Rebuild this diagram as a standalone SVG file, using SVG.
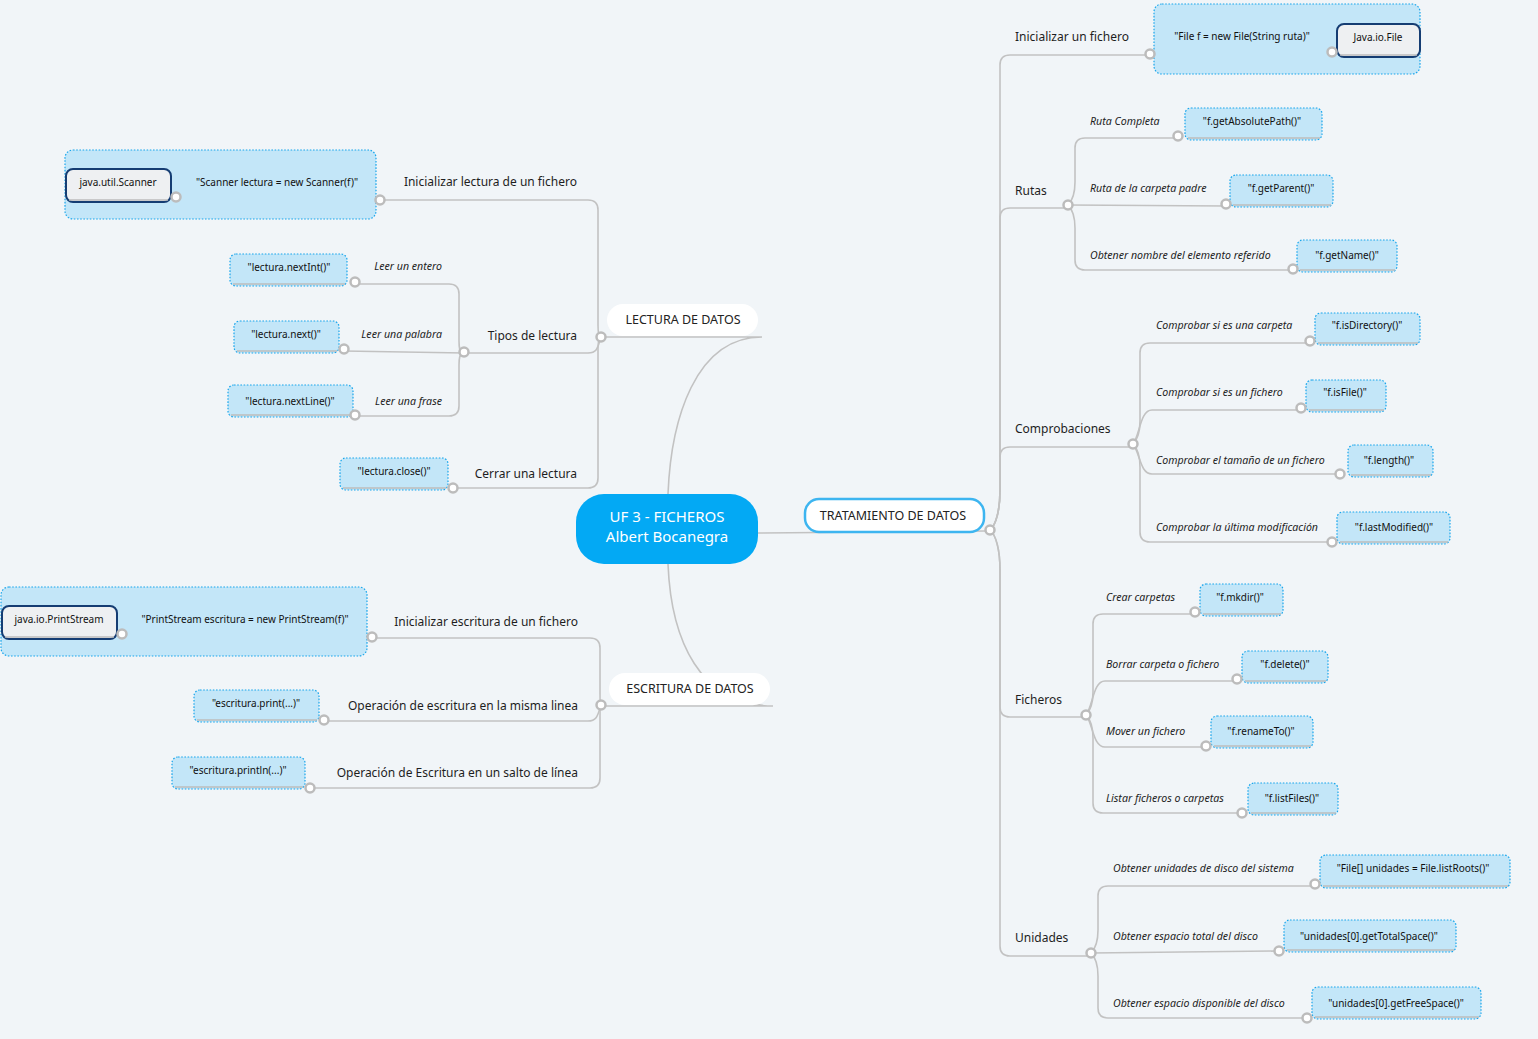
<svg xmlns="http://www.w3.org/2000/svg" width="1538" height="1039" viewBox="0 0 1538 1039">
<style>
.c{fill:none;stroke:#c2c2c2;stroke-width:1.6}
.dot{fill:#fff;stroke:#bcbcbc;stroke-width:2.5}
.box{fill:#c3e6f8;stroke:#19a6ec;stroke-width:1.2;stroke-dasharray:1.6 1.6}
.cont{fill:#c3e6f8;stroke:#19a6ec;stroke-width:1.2;stroke-dasharray:1.6 1.6}
.cls{fill:#eef0f2;stroke:#153d73;stroke-width:2}
.bl{stroke:#bdbdbd;stroke-width:1.6}
.t{font-family:"Noto Sans","Liberation Sans",sans-serif;fill:#1e1e1e}
.lab{font-size:12px}
.it{font-size:10.6px;font-style:italic}
.code{font-size:10px;text-anchor:middle;fill:#111}
.pill{font-size:12.5px;text-anchor:middle;fill:#222}
.e{text-anchor:end}
</style>
<rect width="1538" height="1039" fill="#f1f5f8"/>

<g id="connectors">
<path class="c" d="M758,533 L986,531"/>
<path class="c" d="M668,494 C671,420 695,337 762,337 L605,337"/>
<path class="c" d="M668,564 C671,640 700,706 773,706 L605,706"/>
<path class="c" d="M601,337 C598,337 598,330 598,325 L598,210 Q598,200 588,200 L384,200"/>
<path class="c" d="M601,337 C598,346 598,353 588,353 L468,353"/>
<path class="c" d="M601,337 C598,337 598,344 598,349 L598,478 Q598,488 588,488 L457,488"/>
<path class="c" d="M380,199 L176,197"/>
<path class="c" d="M464,353 C459,353 459,346 459,341 L459,294 Q459,284 449,284 L355,284"/>
<path class="c" d="M464,353 L344,351"/>
<path class="c" d="M464,353 C459,353 459,360 459,365 L459,406 Q459,416 449,416 L355,416"/>
<path class="c" d="M601,705 C600,705 600,698 600,693 L600,648 Q600,638 590,638 L376,638"/>
<path class="c" d="M601,705 C598,713 598,721 588,721 L328,721"/>
<path class="c" d="M601,705 C600,705 600,712 600,717 L600,778 Q600,788 590,788 L314,788"/>
<path class="c" d="M372,637 L122,634"/>
<path class="c" d="M990,530 C996,525 1000,510 1000,490 L1000,65 Q1000,55 1010,55 L1146,55"/>
<path class="c" d="M990,530 C996,525 1000,510 1000,490 L1000,218 Q1000,208 1010,208 L1064,208"/>
<path class="c" d="M990,530 C996,525 1000,510 1000,490 L1000,457 Q1000,447 1010,447 L1129,447"/>
<path class="c" d="M990,530 C996,535 1000,550 1000,570 L1000,707 Q1000,717 1010,717 L1082,717"/>
<path class="c" d="M990,530 C996,535 1000,550 1000,570 L1000,946 Q1000,956 1010,956 L1087,956"/>
<path class="c" d="M1150,54 L1332,52"/>
<path class="c" d="M1068,205 C1073,200 1075,192 1075,182 L1075,148 Q1075,138 1085,138 L1178,138"/>
<path class="c" d="M1068,205 L1226,206"/>
<path class="c" d="M1068,205 C1073,210 1075,218 1075,228 L1075,260 Q1075,270 1085,270 L1293,270"/>
<path class="c" d="M1133,444 C1138,439 1140,431 1140,421 L1140,353 Q1140,343 1150,343 L1310,343"/>
<path class="c" d="M1133,444 C1140,435 1140,410 1152,410 L1301,410"/>
<path class="c" d="M1133,444 C1140,453 1140,474 1152,474 L1340,474"/>
<path class="c" d="M1133,444 C1138,449 1140,457 1140,467 L1140,532 Q1140,542 1150,542 L1332,542"/>
<path class="c" d="M1086,715 C1091,710 1093,702 1093,692 L1093,624 Q1093,614 1103,614 L1195,614"/>
<path class="c" d="M1086,715 C1093,706 1093,681 1105,681 L1237,681"/>
<path class="c" d="M1086,715 C1093,724 1093,747 1105,747 L1206,747"/>
<path class="c" d="M1086,715 C1091,720 1093,728 1093,738 L1093,803 Q1093,813 1103,813 L1242,813"/>
<path class="c" d="M1091,953 C1096,948 1098,940 1098,930 L1098,896 Q1098,886 1108,886 L1315,886"/>
<path class="c" d="M1091,953 L1279,951"/>
<path class="c" d="M1091,953 C1096,958 1098,966 1098,976 L1098,1008 Q1098,1018 1108,1018 L1307,1018"/>
</g>

<g id="central">
<rect x="576" y="494" width="182" height="70" rx="28" fill="#03a9f4"/>
<text class="t" x="667" y="522" font-size="15" text-anchor="middle" style="fill:#fff">UF 3 - FICHEROS</text>
<text class="t" x="667" y="542" font-size="15" text-anchor="middle" style="fill:#fff">Albert Bocanegra</text>
</g>

<g id="lectura">
<rect x="607" y="304" width="151" height="32" rx="16" fill="#fff"/>
<text class="t pill" x="683" y="324">LECTURA DE DATOS</text>
</g>
<g id="escritura">
<rect x="609" y="673" width="161" height="32" rx="16" fill="#fff"/>
<text class="t pill" x="690" y="693">ESCRITURA DE DATOS</text>
</g>
<g id="tratamiento">
<rect x="805" y="499" width="179" height="33" rx="14" fill="#fff" stroke="#3db5f0" stroke-width="2.5"/>
<text class="t pill" x="893" y="520">TRATAMIENTO DE DATOS</text>
</g>

<g id="ini-lectura">
<rect class="cont" x="65" y="150" width="311" height="69" rx="8"/>
<text class="t lab e" x="577" y="186">Inicializar lectura de un fichero</text>
<text class="t code" x="277" y="186">"Scanner lectura = new Scanner(f)"</text>
</g>
<g id="scanner">
<rect class="cls" x="66" y="169" width="105" height="33" rx="7"/>
<line class="bl" x1="69" y1="200" x2="168" y2="200"/>
<text class="t code" x="118" y="186">java.util.Scanner</text>
</g>
<g id="tipos"><text class="t lab e" x="577" y="340">Tipos de lectura</text></g>
<g id="cerrar"><text class="t lab e" x="577" y="478">Cerrar una lectura</text></g>
<g id="nextint"><rect class="box" x="230" y="254" width="117" height="32" rx="6"/><line class="bl" x1="233" y1="284" x2="345" y2="284"/><text class="t code" x="289" y="271">"lectura.nextInt()"</text><text class="t it e" x="442" y="270">Leer un entero</text></g>
<g id="next"><rect class="box" x="234" y="321" width="105" height="32" rx="6"/><line class="bl" x1="237" y1="351" x2="337" y2="351"/><text class="t code" x="286" y="338">"lectura.next()"</text><text class="t it e" x="442" y="338">Leer una palabra</text></g>
<g id="nextline"><rect class="box" x="228" y="385" width="125" height="32" rx="6"/><line class="bl" x1="231" y1="415" x2="351" y2="415"/><text class="t code" x="290" y="405">"lectura.nextLine()"</text><text class="t it e" x="442" y="405">Leer una frase</text></g>
<g id="close"><rect class="box" x="340" y="458" width="108" height="32" rx="6"/><line class="bl" x1="343" y1="488" x2="446" y2="488"/><text class="t code" x="394" y="475">"lectura.close()"</text></g>

<g id="ini-escritura">
<rect class="cont" x="1" y="587" width="366" height="69" rx="8"/>
<text class="t lab e" x="578" y="626">Inicializar escritura de un fichero</text>
<text class="t code" x="245" y="623">"PrintStream escritura = new PrintStream(f)"</text>
</g>
<g id="printstream">
<rect class="cls" x="2" y="606" width="115" height="33" rx="7"/>
<line class="bl" x1="5" y1="637" x2="114" y2="637"/>
<text class="t code" x="59" y="623">java.io.PrintStream</text>
</g>
<g id="print"><rect class="box" x="194" y="690" width="125" height="32" rx="6"/><line class="bl" x1="197" y1="720" x2="317" y2="720"/><text class="t code" x="256" y="707">"escritura.print(...)"</text><text class="t lab e" x="578" y="710">Operación de escritura en la misma linea</text></g>
<g id="println"><rect class="box" x="172" y="757" width="133" height="32" rx="6"/><line class="bl" x1="175" y1="787" x2="303" y2="787"/><text class="t code" x="238" y="774">"escritura.println(...)"</text><text class="t lab e" x="578" y="777">Operación de Escritura en un salto de línea</text></g>

<g id="ini-fichero">
<rect class="cont" x="1154" y="4" width="266" height="70" rx="8"/>
<text class="t lab" x="1015" y="41">Inicializar un fichero</text>
<text class="t code" x="1242" y="40">"File f = new File(String ruta)"</text>
</g>
<g id="javaiofile">
<rect class="cls" x="1337" y="24" width="83" height="33" rx="7"/>
<line class="bl" x1="1340" y1="55" x2="1417" y2="55"/>
<text class="t code" x="1378" y="41">Java.io.File</text>
</g>
<g id="rutas"><text class="t lab" x="1015" y="195">Rutas</text></g>
<g id="comprobaciones"><text class="t lab" x="1015" y="433">Comprobaciones</text></g>
<g id="ficheros"><text class="t lab" x="1015" y="704">Ficheros</text></g>
<g id="unidades"><text class="t lab" x="1015" y="942">Unidades</text></g>

<g id="abspath"><text class="t it" x="1090" y="125">Ruta Completa</text><rect class="box" x="1185" y="108" width="137" height="32" rx="6"/><line class="bl" x1="1188" y1="138" x2="1320" y2="138"/><text class="t code" x="1252" y="125">"f.getAbsolutePath()"</text></g>
<g id="parent"><text class="t it" x="1090" y="192">Ruta de la carpeta padre</text><rect class="box" x="1230" y="175" width="103" height="32" rx="6"/><line class="bl" x1="1233" y1="205" x2="1331" y2="205"/><text class="t code" x="1281" y="192">"f.getParent()"</text></g>
<g id="name"><text class="t it" x="1090" y="259">Obtener nombre del elemento referido</text><rect class="box" x="1297" y="240" width="100" height="32" rx="6"/><line class="bl" x1="1300" y1="270" x2="1395" y2="270"/><text class="t code" x="1347" y="259">"f.getName()"</text></g>

<g id="isdir"><text class="t it" x="1156" y="329">Comprobar si es una carpeta</text><rect class="box" x="1315" y="313" width="105" height="32" rx="6"/><line class="bl" x1="1318" y1="343" x2="1418" y2="343"/><text class="t code" x="1367" y="329">"f.isDirectory()"</text></g>
<g id="isfile"><text class="t it" x="1156" y="396">Comprobar si es un fichero</text><rect class="box" x="1306" y="380" width="80" height="32" rx="6"/><line class="bl" x1="1309" y1="410" x2="1384" y2="410"/><text class="t code" x="1345" y="396">"f.isFile()"</text></g>
<g id="length"><text class="t it" x="1156" y="464">Comprobar el tamaño de un fichero</text><rect class="box" x="1348" y="445" width="85" height="32" rx="6"/><line class="bl" x1="1351" y1="475" x2="1431" y2="475"/><text class="t code" x="1389" y="464">"f.length()"</text></g>
<g id="lastmod"><text class="t it" x="1156" y="531">Comprobar la última modificación</text><rect class="box" x="1337" y="512" width="113" height="32" rx="6"/><line class="bl" x1="1340" y1="542" x2="1448" y2="542"/><text class="t code" x="1394" y="531">"f.lastModified()"</text></g>

<g id="mkdir"><text class="t it" x="1106" y="601">Crear carpetas</text><rect class="box" x="1200" y="584" width="83" height="32" rx="6"/><line class="bl" x1="1203" y1="614" x2="1281" y2="614"/><text class="t code" x="1240" y="601">"f.mkdir()"</text></g>
<g id="delete"><text class="t it" x="1106" y="668">Borrar carpeta o fichero</text><rect class="box" x="1242" y="651" width="86" height="32" rx="6"/><line class="bl" x1="1245" y1="681" x2="1326" y2="681"/><text class="t code" x="1285" y="668">"f.delete()"</text></g>
<g id="rename"><text class="t it" x="1106" y="735">Mover un fichero</text><rect class="box" x="1211" y="716" width="102" height="32" rx="6"/><line class="bl" x1="1214" y1="746" x2="1311" y2="746"/><text class="t code" x="1261" y="735">"f.renameTo()"</text></g>
<g id="listfiles"><text class="t it" x="1106" y="802">Listar ficheros o carpetas</text><rect class="box" x="1248" y="783" width="90" height="32" rx="6"/><line class="bl" x1="1251" y1="813" x2="1336" y2="813"/><text class="t code" x="1292" y="802">"f.listFiles()"</text></g>

<g id="listroots"><text class="t it" x="1113" y="872">Obtener unidades de disco del sistema</text><rect class="box" x="1320" y="855" width="190" height="33" rx="6"/><line class="bl" x1="1323" y1="886" x2="1508" y2="886"/><text class="t code" x="1413" y="872">"File[] unidades = File.listRoots()"</text></g>
<g id="totalspace"><text class="t it" x="1113" y="940">Obtener espacio total del disco</text><rect class="box" x="1284" y="920" width="172" height="32" rx="6"/><line class="bl" x1="1287" y1="950" x2="1454" y2="950"/><text class="t code" x="1369" y="940">"unidades[0].getTotalSpace()"</text></g>
<g id="freespace"><text class="t it" x="1113" y="1007">Obtener espacio disponible del disco</text><rect class="box" x="1312" y="987" width="169" height="32" rx="6"/><line class="bl" x1="1315" y1="1017" x2="1479" y2="1017"/><text class="t code" x="1396" y="1007">"unidades[0].getFreeSpace()"</text></g>

<g id="dots">
<circle class="dot" cx="990" cy="530" r="4.5"/>
<circle class="dot" cx="601" cy="337" r="4.5"/>
<circle class="dot" cx="601" cy="705" r="4.5"/>
<circle class="dot" cx="380" cy="200" r="4.5"/>
<circle class="dot" cx="176" cy="197" r="4.5"/>
<circle class="dot" cx="464" cy="352" r="4.5"/>
<circle class="dot" cx="453" cy="488" r="4.5"/>
<circle class="dot" cx="355" cy="282" r="4.5"/>
<circle class="dot" cx="344" cy="349" r="4.5"/>
<circle class="dot" cx="355" cy="415" r="4.5"/>
<circle class="dot" cx="372" cy="637" r="4.5"/>
<circle class="dot" cx="122" cy="634" r="4.5"/>
<circle class="dot" cx="324" cy="720" r="4.5"/>
<circle class="dot" cx="310" cy="788" r="4.5"/>
<circle class="dot" cx="1150" cy="54" r="4.5"/>
<circle class="dot" cx="1332" cy="52" r="4.5"/>
<circle class="dot" cx="1068" cy="205" r="4.5"/>
<circle class="dot" cx="1133" cy="444" r="4.5"/>
<circle class="dot" cx="1086" cy="715" r="4.5"/>
<circle class="dot" cx="1091" cy="953" r="4.5"/>
<circle class="dot" cx="1178" cy="136" r="4.5"/>
<circle class="dot" cx="1226" cy="204" r="4.5"/>
<circle class="dot" cx="1293" cy="269" r="4.5"/>
<circle class="dot" cx="1310" cy="341" r="4.5"/>
<circle class="dot" cx="1301" cy="408" r="4.5"/>
<circle class="dot" cx="1340" cy="474" r="4.5"/>
<circle class="dot" cx="1332" cy="542" r="4.5"/>
<circle class="dot" cx="1195" cy="612" r="4.5"/>
<circle class="dot" cx="1237" cy="679" r="4.5"/>
<circle class="dot" cx="1206" cy="746" r="4.5"/>
<circle class="dot" cx="1242" cy="813" r="4.5"/>
<circle class="dot" cx="1315" cy="884" r="4.5"/>
<circle class="dot" cx="1279" cy="951" r="4.5"/>
<circle class="dot" cx="1307" cy="1018" r="4.5"/>
</g>
</svg>
